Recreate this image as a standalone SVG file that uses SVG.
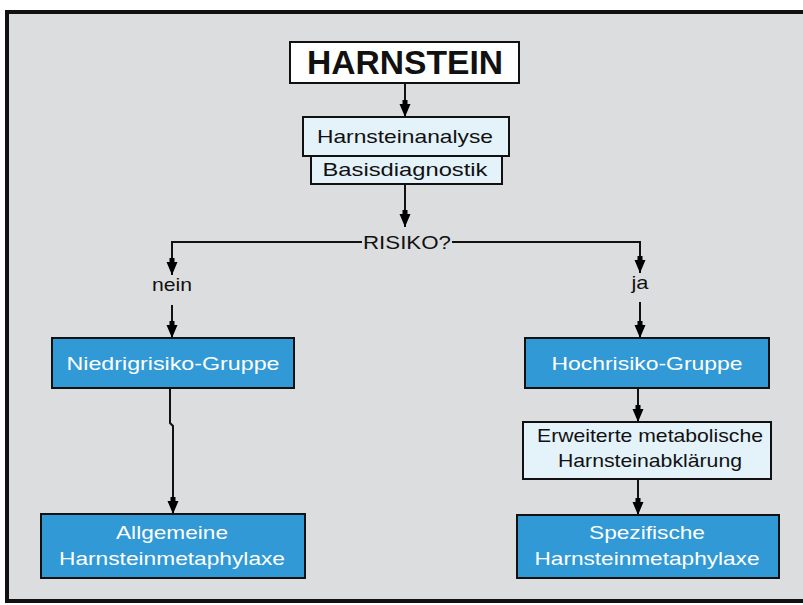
<svg xmlns="http://www.w3.org/2000/svg" width="803" height="605" viewBox="0 0 803 605">
<defs>
<marker id="ah" markerUnits="userSpaceOnUse" markerWidth="18" markerHeight="12" viewBox="0 0 18 12" refX="17" refY="6" orient="auto">
<path d="M0,3.5 H4 V0.5 L17,6 L4,11.5 V8.5 H0 Z" fill="#000"/>
</marker>
<style>
.frame{fill:#dcdddf;stroke:#111;stroke-width:4}
.box{stroke:#111;stroke-width:2}
.light{fill:#e4f2fa}
.blue{fill:#3199d5}
.white{fill:#fff}
.t{font-family:"Liberation Sans",Arial,sans-serif;font-size:19px;text-anchor:middle;fill:#111}
.tw{font-family:"Liberation Sans",Arial,sans-serif;font-size:19px;text-anchor:middle;fill:#fff}
.title{font-family:"Liberation Sans",Arial,sans-serif;font-size:34px;font-weight:bold;text-anchor:middle;fill:#111}
.c{fill:none;stroke:#111;stroke-width:2}
</style>
</defs>
<rect x="0" y="0" width="803" height="605" fill="#fff"/>
<rect class="frame" x="7" y="12" width="800" height="589"/>

<g id="connectors">
<line class="c" x1="405" y1="83" x2="405" y2="117" marker-end="url(#ah)"/>
<line class="c" x1="405" y1="184" x2="405" y2="227" marker-end="url(#ah)"/>
<path class="c" d="M362,242 H172 V275" marker-end="url(#ah)"/>
<path class="c" d="M452,242 H640 V273" marker-end="url(#ah)"/>
<line class="c" x1="172" y1="305" x2="172" y2="338" marker-end="url(#ah)"/>
<line class="c" x1="640" y1="302" x2="640" y2="338" marker-end="url(#ah)"/>
<path class="c" d="M170,388 V423 L173,426 V514" marker-end="url(#ah)"/>
<line class="c" x1="638" y1="388" x2="638" y2="422" marker-end="url(#ah)"/>
<line class="c" x1="638" y1="479" x2="638" y2="515" marker-end="url(#ah)"/>
</g>

<g id="harnstein">
<rect class="box white" x="290" y="42" width="229" height="41"/>
<text class="title" x="405" y="74" textLength="196" lengthAdjust="spacingAndGlyphs">HARNSTEIN</text>
</g>

<g id="harnsteinanalyse">
<rect class="box light" x="303" y="117" width="206" height="39"/>
<text class="t" x="405" y="143" textLength="176" lengthAdjust="spacingAndGlyphs">Harnsteinanalyse</text>
</g>

<g id="basisdiagnostik">
<rect class="box light" x="311" y="156" width="191" height="28"/>
<text class="t" x="405" y="176" textLength="165" lengthAdjust="spacingAndGlyphs">Basisdiagnostik</text>
</g>

<g id="risiko">
<text class="t" x="407" y="249" textLength="88" lengthAdjust="spacingAndGlyphs">RISIKO?</text>
</g>

<g id="nein">
<text class="t" x="172" y="291" textLength="40" lengthAdjust="spacingAndGlyphs">nein</text>
</g>

<g id="ja">
<text class="t" x="640" y="289" textLength="17" lengthAdjust="spacingAndGlyphs">ja</text>
</g>

<g id="niedrigrisiko">
<rect class="box blue" x="52" y="338" width="242" height="50"/>
<text class="tw" x="173" y="370" textLength="213" lengthAdjust="spacingAndGlyphs">Niedrigrisiko-Gruppe</text>
</g>

<g id="hochrisiko">
<rect class="box blue" x="525" y="338" width="244" height="50"/>
<text class="tw" x="647" y="370" textLength="191" lengthAdjust="spacingAndGlyphs">Hochrisiko-Gruppe</text>
</g>

<g id="erweiterte">
<rect class="box light" x="523" y="422" width="248" height="57"/>
<text class="t" x="650" y="442" textLength="226" lengthAdjust="spacingAndGlyphs">Erweiterte metabolische</text>
<text class="t" x="650" y="467" textLength="184" lengthAdjust="spacingAndGlyphs">Harnsteinabklärung</text>
</g>

<g id="allgemeine">
<rect class="box blue" x="41" y="514" width="264" height="64"/>
<text class="tw" x="172" y="539" textLength="112" lengthAdjust="spacingAndGlyphs">Allgemeine</text>
<text class="tw" x="172" y="565" textLength="226" lengthAdjust="spacingAndGlyphs">Harnsteinmetaphylaxe</text>
</g>

<g id="spezifische">
<rect class="box blue" x="517" y="515" width="262" height="63"/>
<text class="tw" x="647" y="539" textLength="116" lengthAdjust="spacingAndGlyphs">Spezifische</text>
<text class="tw" x="647" y="565" textLength="225" lengthAdjust="spacingAndGlyphs">Harnsteinmetaphylaxe</text>
</g>
</svg>
